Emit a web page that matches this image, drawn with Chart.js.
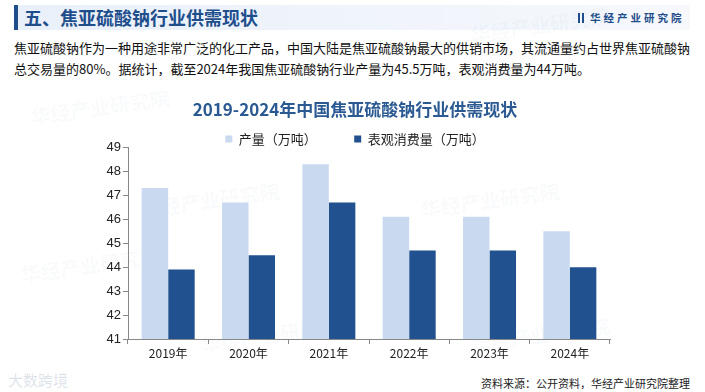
<!DOCTYPE html>
<html>
<head>
<meta charset="utf-8">
<script src="https://cdn.jsdelivr.net/npm/chart.js@4/dist/chart.umd.min.js"></script>
<style>
  html, body { margin: 0; padding: 0; background: #fff; }
  body { width: 705px; height: 392px; position: relative; overflow: hidden;
         font-family: "Noto Sans CJK SC", "Noto Sans", sans-serif; }
  .band { position: absolute; left: 14px; top: 5px; width: 676px; height: 25px;
          background: linear-gradient(90deg, #e9f0f9 0%, #f1f5fb 60%, #f6f8fc 100%); }
  .band .bar { position: absolute; left: 0; top: 0; width: 4px; height: 25px; background: #1f4e8c; }
  .head { position: absolute; left: 24px; top: 5px; line-height: 25px; font-size: 18px;
          font-weight: bold; color: #1f4e8c; }
  .logo { position: absolute; left: 578px; top: 5px; line-height: 25px; font-size: 10.5px;
          font-weight: bold; color: #1f4e8c; letter-spacing: 3px; }
  .logo i { display: inline-block; width: 6px; height: 10px; border-left: 2px solid #1f4e8c;
            border-right: 2px solid #1f4e8c; vertical-align: -1px; margin-right: 6px; box-sizing: border-box; }
  .para { position: absolute; left: 14px; top: 37px; font-size: 13px; line-height: 21px; color: #111;
          white-space: nowrap; }
  .src { position: absolute; right: 15px; top: 375px; font-size: 11px; color: #222; }
  .wm { position: absolute; color: rgba(60,100,160,0.04); font-weight: bold; font-size: 20px;
        transform: rotate(-8deg); white-space: nowrap; }
  .wm2 { position: absolute; left: 8px; top: 369px; color: rgba(120,140,170,0.25); font-size: 15px; }
  #box { position: absolute; left: 0; top: 95px; width: 705px; height: 275px; }
</style>
</head>
<body>
<div class="band"><div class="bar"></div></div>
<div class="head">五、焦亚硫酸钠行业供需现状</div>
<div class="logo"><i></i>华经产业研究院</div>
<div class="para">焦亚硫酸钠作为一种用途非常广泛的化工产品，中国大陆是焦亚硫酸钠最大的供销市场，其流通量约占世界焦亚硫酸钠<br>总交易量的80%。据统计，截至2024年我国焦亚硫酸钠行业产量为45.5万吨，表观消费量为44万吨。</div>
<div class="wm" style="left:30px;top:92px;">华经产业研究院</div>
<div class="wm" style="left:470px;top:10px;">华经产业研究院</div>
<div class="wm" style="left:140px;top:185px;">华经产业研究院</div>
<div class="wm" style="left:420px;top:185px;">华经产业研究院</div>
<div class="wm" style="left:20px;top:250px;">华经产业研究院</div>
<div class="wm" style="left:200px;top:320px;">华经产业研究院</div>
<div class="wm" style="left:470px;top:320px;">华经产业研究院</div>
<div class="wm2">大数跨境</div>
<div class="src">资料来源：公开资料，华经产业研究院整理</div>
<div id="box"><canvas id="chart"></canvas></div>
<script>
var years = ['2019年', '2020年', '2021年', '2022年', '2023年', '2024年'];
var output = [47.3, 46.7, 48.3, 46.1, 46.1, 45.5];
var consumption = [43.9, 44.5, 46.7, 44.7, 44.7, 44.0];
var seriesNames = ['产量（万吨）', '表观消费量（万吨）'];
var lightColor = '#c9daf0';
var darkColor = '#21518f';

var tickFont = { family: '"Liberation Sans", Arial, sans-serif', size: 13 };

// legend box is a bit tall by default, pull the plot up under it
var legendTrim = {
  id: 'legendTrim',
  beforeLayout: function (chart) {
    var lg = chart.legend;
    if (lg && !lg._trimmed) {
      var fit = lg.fit;
      lg.fit = function () { fit.call(this); this.height -= 8; };
      lg._trimmed = true;
    }
  }
};

new Chart(document.getElementById('chart').getContext('2d'), {
  type: 'bar',
  data: {
    labels: years,
    datasets: [
      { label: seriesNames[0], data: output, backgroundColor: lightColor,
        categoryPercentage: 0.66, barPercentage: 1 },
      { label: seriesNames[1], data: consumption, backgroundColor: darkColor,
        categoryPercentage: 0.66, barPercentage: 1 }
    ]
  },
  plugins: [legendTrim],
  options: {
    responsive: true,
    maintainAspectRatio: false,
    animation: false,
    layout: { padding: { left: 100, right: 95, top: 4, bottom: 0 } },
    plugins: {
      title: {
        display: true,
        text: '2019-2024年中国焦亚硫酸钠行业供需现状',
        color: '#2b5a93',
        font: { family: '"Noto Sans CJK SC", sans-serif', size: 17, weight: 'bold' },
        padding: { top: 0, bottom: 11 }
      },
      legend: {
        labels: {
          boxWidth: 7, boxHeight: 7, color: '#222', padding: 2,
          font: { family: '"Noto Sans CJK SC", sans-serif', size: 13, lineHeight: 1 },
          generateLabels: function (chart) {
            var items = Chart.defaults.plugins.legend.labels.generateLabels(chart);
            // wider gap between the two legend entries, like the original
            items[0].text = items[0].text + '\u3000\u3000\u3000 ';
            return items;
          }
        }
      },
      tooltip: { enabled: false }
    },
    scales: {
      x: {
        grid: { display: true, drawOnChartArea: false, drawTicks: true, tickLength: 5,
                offset: true, color: '#888' },
        border: { color: '#888' },
        ticks: { color: '#222', font: { family: '"Noto Sans CJK SC", sans-serif', size: 12 }, padding: 2 },
        afterFit: function (s) { s.height = 31; }
      },
      y: {
        min: 41, max: 49,
        grid: { display: true, drawOnChartArea: false, drawTicks: true, tickLength: 5, color: '#888' },
        border: { color: '#888' },
        ticks: { stepSize: 1, color: '#222', font: tickFont, padding: 2 },
        afterFit: function (s) { s.width = 28; }
      }
    }
  }
});
</script>
</body>
</html>
